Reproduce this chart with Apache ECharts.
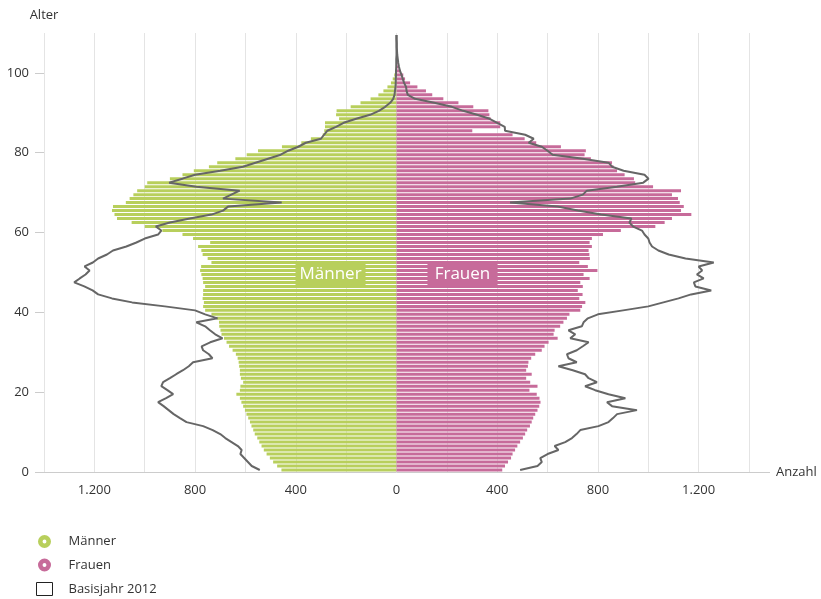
<!DOCTYPE html>
<html>
<head>
<meta charset="utf-8">
<script src="https://cdn.jsdelivr.net/npm/echarts@6/dist/echarts.min.js"></script>
<style>
  html, body { margin: 0; padding: 0; background: #fff; }
  #main { width: 821px; height: 599px; }
</style>
</head>
<body>
<div id="main"></div>
<script>
// Einwohner nach Alter (Anzahl), Balken = Prognose, Linie = Basisjahr 2012
const ages = [];
for (let i = 0; i < 110; i++) ages.push(String(i));

const menBars = [
  457, 474, 490, 503, 516, 527, 536, 545, 553, 563,
  569, 576, 582, 589, 596, 602, 609, 616, 622, 636,
  622, 620, 609, 618, 622, 622, 625, 627, 631, 638,
  651, 665, 675, 685, 695, 699, 704, 705, 715, 735,
  760, 768, 765, 770, 768, 768, 760, 768, 770, 775,
  780, 776, 735, 750, 770, 775, 788, 740, 808, 850,
  930, 1000, 1052, 1110, 1120, 1130, 1126, 1075, 1060, 1045,
  1030, 1000, 990, 900, 850, 805, 745, 712, 640, 595,
  550, 455, 378, 340, 293, 287, 284, 284, 228, 240,
  238, 182, 143, 103, 72, 52, 36, 22, 15, 9,
  5, 3, 2, 1
];

const womenBars = [
  420, 431, 443, 455, 461, 471, 480, 491, 502, 511,
  519, 530, 537, 543, 551, 560, 567, 572, 568, 557,
  528, 560, 531, 515, 537, 515, 522, 524, 535, 551,
  577, 588, 604, 640, 624, 628, 650, 663, 677, 687,
  730, 737, 750, 726, 739, 720, 740, 730, 767, 743,
  798, 760, 726, 768, 766, 763, 776, 767, 776, 820,
  891, 1028, 1065, 1094, 1171, 1130, 1141, 1125, 1118, 1094,
  1130, 1019, 948, 943, 906, 876, 862, 856, 772, 747,
  752, 653, 555, 509, 461, 301, 412, 412, 374, 369,
  365, 305, 246, 186, 142, 117, 83, 54, 34, 27,
  15, 8, 5, 3
];

const menBase = [
  543, 575, 590, 605, 620, 615, 630, 655, 680, 700,
  730, 768, 834, 860, 885, 905, 925, 947, 915, 887,
  910, 934, 927, 900, 875, 848, 825, 808, 731, 745,
  768, 774, 740, 691, 720, 741, 760, 795, 711, 760,
  800, 920, 1050, 1130, 1185, 1207, 1240, 1280, 1258, 1235,
  1219, 1239, 1206, 1185, 1150, 1126, 1073, 1033, 1000, 947,
  934, 956, 900, 821, 735, 689, 669, 456, 689, 656,
  623, 795, 903, 850, 800, 700, 610, 560, 510, 460,
  430, 390, 360, 300, 288, 275, 240, 210, 160, 105,
  70, 45, 25, 13, 8, 6, 4, 3, 3, 2,
  2, 1, 1, 1, 0, 0, 0, 0, 0, 0
];

const womenBase = [
  491, 560, 577, 571, 600, 643, 628, 670, 697, 715,
  730, 802, 842, 860, 876, 955, 856, 836, 909, 842,
  789, 749, 796, 763, 749, 700, 643, 716, 683, 677,
  716, 740, 763, 690, 710, 683, 736, 743, 760, 800,
  900, 1000, 1060, 1120, 1170, 1250, 1187, 1181, 1220, 1193,
  1214, 1200, 1260, 1148, 1081, 1040, 1015, 1005, 1000, 985,
  975, 940, 925, 933, 813, 720, 640, 451, 690, 740,
  756, 875, 980, 1001, 985, 902, 856, 842, 740, 620,
  600, 577, 525, 545, 511, 431, 430, 400, 370, 320,
  265, 220, 150, 74, 45, 40, 38, 30, 25, 20,
  14, 10, 7, 5, 3, 2, 1, 1, 0, 0
];

const xTickValues = [-1200, -800, -400, 0, 400, 800, 1200];
const xTickLabels = ['1.200', '800', '400', '0', '400', '800', '1.200'];
const yTickValues = [0, 20, 40, 60, 80, 100];

const green = '#b8cf5c';
const pink = '#c76b9a';
const lineGrey = '#666666';
const axisGrey = '#cccccc';
const font = 'Open Sans';
const ring = 'path://M10,0 A10,10 0 1,1 10,20 A10,10 0 1,1 10,0 Z M10,7 A3,3 0 1,0 10,13 A3,3 0 1,0 10,7 Z';

function loadChart() {
  var chartDom = document.getElementById('main');
  var myChart = echarts.init(chartDom);
  var option;

  option = {
    animation: false,
    textStyle: { fontFamily: font },
    grid: { left: 44, right: 72, top: 33, bottom: 127, containLabel: false, outerBoundsMode: 'none' },
    legend: {
      orient: 'vertical',
      left: 36,
      top: 535,
      padding: 0,
      itemWidth: 16,
      itemHeight: 13,
      itemGap: 10.5,
      textStyle: { fontFamily: font, fontSize: 13, color: '#333', padding: [0, 0, 0, 11] },
      data: [
        { name: 'Männer', icon: ring, itemStyle: { color: green } },
        { name: 'Frauen', icon: ring, itemStyle: { color: pink } },
        { name: 'Basisjahr 2012', icon: 'rect', itemStyle: { color: '#fff', borderColor: '#222', borderWidth: 1 } }
      ]
    },
    xAxis: {
      type: 'value',
      min: -1400,
      max: 1400,
      interval: 200,
      name: 'Anzahl',
      nameLocation: 'end',
      nameGap: 27,
      nameTextStyle: { fontFamily: font, fontSize: 13, color: '#333' },
      axisLine: { lineStyle: { color: axisGrey } },
      axisTick: { show: false },
      splitLine: { lineStyle: { color: '#e4e4e4' } },
      axisLabel: {
        margin: 12,
        fontFamily: font,
        fontSize: 13,
        color: '#333',
        formatter: function (v) {
          const i = xTickValues.indexOf(v);
          return i >= 0 ? xTickLabels[i] : '';
        }
      }
    },
    yAxis: [
      {
        type: 'category',
        data: ages,
        show: false
      },
      {
        type: 'value',
        min: 0,
        max: 110,
        interval: 20,
        position: 'left',
        name: 'Alter',
        nameLocation: 'end',
        nameGap: 11,
        nameTextStyle: { fontFamily: font, fontSize: 13, color: '#333', align: 'center' },
        axisLine: { show: false },
        axisTick: { show: true, length: 9, customValues: yTickValues, lineStyle: { color: axisGrey } },
        splitLine: { show: false },
        axisLabel: {
          margin: 15,
          fontFamily: font,
          fontSize: 13,
          color: '#333',
          customValues: yTickValues
        }
      }
    ],
    series: [
      {
        name: 'Männer',
        type: 'bar',
        yAxisIndex: 0,
        barWidth: 3,
        barGap: '-100%',
        itemStyle: { color: green },
        data: menBars.map(v => -v),
        markPoint: {
          silent: true,
          symbol: 'rect',
          symbolSize: [70, 24],
          itemStyle: { color: green },
          label: { show: true, formatter: 'Männer', color: '#fff', fontFamily: font, fontSize: 17 },
          data: [{ coord: [-262, '49'] }]
        }
      },
      {
        name: 'Frauen',
        type: 'bar',
        yAxisIndex: 0,
        barWidth: 3,
        barGap: '-100%',
        itemStyle: { color: pink },
        data: womenBars,
        markPoint: {
          silent: true,
          symbol: 'rect',
          symbolSize: [70, 24],
          itemStyle: { color: pink },
          label: { show: true, formatter: 'Frauen', color: '#fff', fontFamily: font, fontSize: 17 },
          data: [{ coord: [262, '49'] }]
        }
      },
      {
        name: 'Basisjahr 2012',
        type: 'line',
        yAxisIndex: 0,
        showSymbol: false,
        z: 5,
        itemStyle: { color: lineGrey },
        lineStyle: { color: lineGrey, width: 2 },
        data: menBase.map(v => -v)
      },
      {
        name: 'Basisjahr 2012',
        type: 'line',
        yAxisIndex: 0,
        showSymbol: false,
        z: 5,
        itemStyle: { color: lineGrey },
        lineStyle: { color: lineGrey, width: 2 },
        data: womenBase
      }
    ]
  };

  myChart.setOption(option);

  // Achsenlinie rechts ueber das Raster hinaus bis zur Beschriftung "Anzahl" verlaengern
  const end = myChart.convertToPixel({ xAxisIndex: 0, yAxisIndex: 1 }, [1400, 0]);
  myChart.setOption({
    graphic: [{
      type: 'line',
      silent: true,
      shape: { x1: end[0], y1: end[1] + 0.5, x2: end[0] + 21, y2: end[1] + 0.5 },
      style: { stroke: axisGrey, lineWidth: 1 }
    }]
  });
}

document.addEventListener('DOMContentLoaded', () => {
  loadChart();
});
</script>
</body>
</html>
